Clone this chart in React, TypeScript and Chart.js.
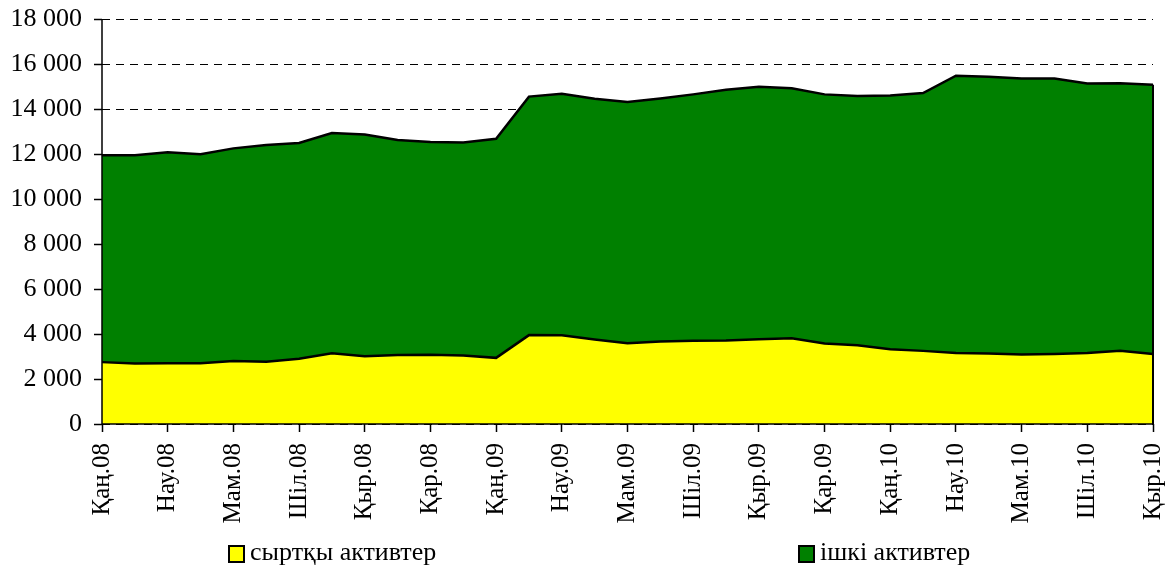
import React, { useEffect, useRef } from "react";
import { Chart, registerables } from "chart.js";

Chart.register(...registerables);

const monthNames = ["Қаң", "Ақп", "Нау", "Сәу", "Мам", "Мау", "Шіл", "Там", "Қыр", "Қаз", "Қар", "Жел"];
const years = ["08", "09", "10"];
const categories: string[] = [];
for (const y of years) {
  for (const m of monthNames) {
    categories.push(`${m}.${y}`);
  }
}
const labels = categories.slice(0, 33);

const externalAssets = [2750, 2690, 2700, 2700, 2800, 2770, 2900, 3140, 3010, 3070, 3080, 3040, 2940, 3950, 3940, 3760, 3590, 3670, 3700, 3710, 3770, 3810, 3580, 3500, 3320, 3250, 3160, 3130, 3090, 3110, 3160, 3260, 3110];
const domesticAssets = [9200, 9260, 9380, 9290, 9450, 9630, 9590, 9790, 9860, 9550, 9450, 9470, 9740, 10600, 10740, 10700, 10720, 10800, 10950, 11150, 11220, 11110, 11070, 11080, 11280, 11460, 12320, 12300, 12270, 12250, 11970, 11880, 11970];

const seriesNames = ["сыртқы активтер", "ішкі активтер"];
const seriesColors = ["#FFFF00", "#008000"];

const FONT = '"Liberation Serif", "Times New Roman", serif';

const axesPlugin = {
  id: "axesPlugin",
  afterDatasetsDraw(chart: any) {
    const { ctx, chartArea } = chart;
    const meta = chart.getDatasetMeta(1);
    const last = meta.data[meta.data.length - 1];
    ctx.save();
    ctx.strokeStyle = "#000";
    ctx.lineWidth = 1.5;
    ctx.setLineDash([]);
    ctx.beginPath();
    ctx.moveTo(chartArea.left, chartArea.top);
    ctx.lineTo(chartArea.left, chartArea.bottom);
    ctx.lineTo(chartArea.right, chartArea.bottom);
    ctx.stroke();
    if (last) {
      ctx.lineWidth = 2;
      ctx.beginPath();
      ctx.moveTo(last.x, last.y);
      ctx.lineTo(last.x, chartArea.bottom);
      ctx.stroke();
    }
    ctx.restore();
  },
};

export default function App() {
  const ref = useRef<HTMLCanvasElement | null>(null);

  useEffect(() => {
    if (!ref.current) return;
    const chart = new Chart(ref.current, {
      type: "line",
      data: {
        labels,
        datasets: [
          {
            label: seriesNames[0],
            data: externalAssets,
            backgroundColor: seriesColors[0],
            borderColor: "#000",
            borderWidth: 2.5,
            pointRadius: 0,
            fill: "origin",
            tension: 0,
          },
          {
            label: seriesNames[1],
            data: domesticAssets,
            backgroundColor: seriesColors[1],
            borderColor: "#000",
            borderWidth: 2.5,
            pointRadius: 0,
            fill: "-1",
            tension: 0,
          },
        ],
      },
      options: {
        animation: false,
        responsive: false,
        devicePixelRatio: 1,
        layout: { padding: { left: 0, right: 12, top: 19, bottom: 0 } },
        plugins: {
          legend: { display: false },
          tooltip: { enabled: false },
        },
        scales: {
          x: {
            offset: false,
            grid: {
              drawOnChartArea: false,
              drawTicks: true,
              tickLength: 8,
              tickColor: "#000",
              tickWidth: 1.5,
            },
            border: { display: false },
            ticks: {
              autoSkip: false,
              maxRotation: 90,
              minRotation: 90,
              padding: 11,
              color: "#000",
              font: { family: FONT, size: 25 },
              callback: (_v: any, i: number) => (i % 2 === 0 ? labels[i] : null),
            },
            afterFit: (scale: any) => {
              scale.height = 143;
              scale.paddingLeft = 0;
              scale.paddingRight = 0;
            },
          },
          y: {
            stacked: true,
            min: 0,
            max: 18000,
            grid: {
              color: "#000",
              lineWidth: 1,
              tickLength: 8,
              tickColor: "#000",
              tickWidth: 1.5,
              tickBorderDash: [],
            },
            border: { display: false, dash: [8, 6] },
            ticks: {
              stepSize: 2000,
              padding: 12,
              color: "#000",
              font: { family: FONT, size: 26 },
              callback: (v: any) => {
                const n = Number(v);
                if (n === 0) return "0";
                const th = Math.floor(n / 1000);
                return `${th} 000`;
              },
            },
            afterFit: (scale: any) => {
              scale.width = 102;
              scale.paddingTop = 0;
              scale.paddingBottom = 0;
            },
          },
        },
      },
      plugins: [axesPlugin],
    });
    return () => chart.destroy();
  }, []);

  const legendItem = (i: number, left: number) => (
    <div
      key={i}
      style={{
        position: "absolute",
        left,
        top: 537,
        display: "flex",
        alignItems: "center",
        fontFamily: FONT,
        fontSize: 26,
        color: "#000",
        lineHeight: "30px",
        whiteSpace: "nowrap",
      }}
    >
      <span
        style={{
          display: "inline-block",
          width: 17,
          height: 18,
          boxSizing: "border-box",
          border: "2px solid #000",
          background: seriesColors[i],
          marginRight: 5,
          marginTop: 3,
        }}
      />
      <span>{seriesNames[i]}</span>
    </div>
  );

  return (
    <div style={{ position: "absolute", left: 0, top: 0, width: 1165, height: 567, background: "#fff" }}>
      <canvas ref={ref} width={1165} height={567} style={{ width: 1165, height: 567, display: "block" }} />
      {legendItem(0, 228)}
      {legendItem(1, 798)}
    </div>
  );
}
